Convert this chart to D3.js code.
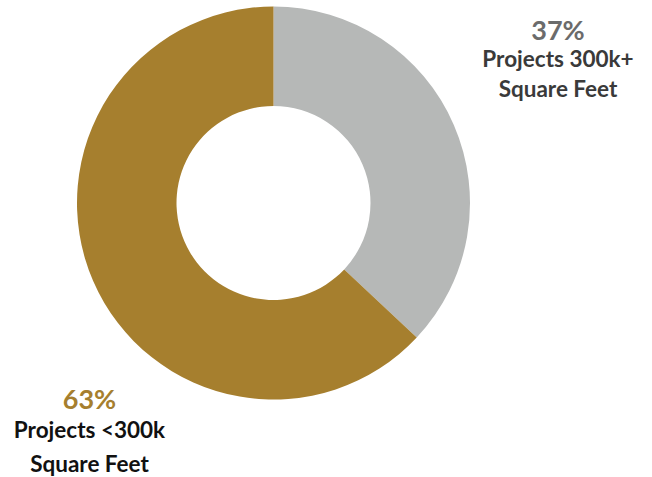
<!DOCTYPE html>
<html><head><meta charset="utf-8">
<script src="https://cdn.jsdelivr.net/npm/d3@7"></script>
<style>body{margin:0;background:#fff}svg{display:block}</style>
</head><body>
<svg id="c" width="652" height="477"></svg>
<script>
const categories = ["Projects 300k+ Square Feet", "Projects <300k Square Feet"];
const values = [37, 63];
const colors = ["#b6b8b7", "#a67f2e"];
const pctLabels = ["37%", "63%"];
const lineLabels = [["Projects 300k+", "Square Feet"], ["Projects <300k", "Square Feet"]];

const svg = d3.select("#c");
const cx = 273.5, cy = 203, outerR = 196.5, innerR = 97;
const pie = d3.pie().sort(null).value(d => d)(values);
const arc = d3.arc().innerRadius(innerR).outerRadius(outerR);
svg.append("g").attr("transform", `translate(${cx},${cy})`)
  .selectAll("path").data(pie).join("path")
  .attr("d", arc).attr("fill", (d, i) => colors[i]);

const font = "Lato, 'Noto Sans', sans-serif";
const labelPos = [
  {x: 558, y: [39.5, 67, 97], pctColor: "#6b6b6b", textColor: "#3a3a3a"},
  {x: 89.5, y: [409, 438, 472], pctColor: "#a67f2e", textColor: "#111111"}
];
labelPos.forEach((p, i) => {
  const g = svg.append("g").attr("font-family", font).attr("font-weight", 700).attr("text-anchor", "middle");
  g.append("text").attr("x", p.x).attr("y", p.y[0]).attr("font-size", 27).attr("fill", p.pctColor).text(pctLabels[i]);
  lineLabels[i].forEach((t, j) => {
    g.append("text").attr("x", p.x).attr("y", p.y[j + 1]).attr("font-size", 22.5).attr("fill", p.textColor).text(t);
  });
});
</script>
</body></html>
